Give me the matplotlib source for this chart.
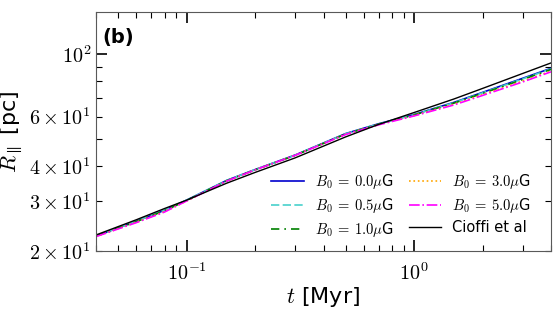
import numpy as np
import matplotlib
matplotlib.use("Agg")
import matplotlib.pyplot as plt
from matplotlib.ticker import FuncFormatter, LogLocator, NullFormatter

plt.rcParams['mathtext.fontset'] = 'cm'
plt.rcParams['font.family'] = ['DejaVu Sans']

# time [Myr]
t = [0.04, 0.06, 0.08, 0.1, 0.15, 0.2, 0.3, 0.5, 0.7, 1.0, 1.5, 2.0, 3.0, 4.0]

# R_par [pc] for each field strength
r_b00 = [22.6, 25.5, 27.9, 30.3, 35.6, 38.9, 43.8, 52.2, 56.6, 61.0, 67.4, 73.1, 82.0, 89.0]
r_b05 = [22.6, 25.5, 27.9, 30.3, 35.6, 38.9, 43.8, 52.1, 56.5, 60.9, 67.2, 72.8, 81.6, 88.6]
r_b10 = [22.6, 25.4, 27.8, 30.2, 35.5, 38.8, 43.7, 52.0, 56.4, 60.8, 67.0, 72.5, 81.2, 88.2]
r_b30 = [22.5, 25.3, 27.6, 30.1, 35.4, 38.8, 43.7, 51.9, 56.2, 60.5, 66.4, 71.8, 80.2, 87.0]
r_b50 = [22.5, 25.2, 27.5, 30.1, 35.4, 38.8, 43.7, 51.8, 56.1, 60.3, 66.0, 71.3, 79.6, 86.5]
# Cioffi et al analytic
r_cioffi = [22.8, 25.8, 28.3, 30.3, 34.8, 38.0, 42.8, 50.8, 56.3, 62.0, 69.3, 75.5, 85.3, 93.0]

labels = [r'$B_0\:=\:0.0\mu$G', r'$B_0\:=\:0.5\mu$G', r'$B_0\:=\:1.0\mu$G',
          r'$B_0\:=\:3.0\mu$G', r'$B_0\:=\:5.0\mu$G', 'Cioffi et al']

fig = plt.figure(figsize=(5.56, 3.12), dpi=100)
ax = fig.add_axes([0.1727, 0.1955, 0.8183, 0.766])

ax.plot(t, r_b00, color='mediumblue', ls='-', lw=1.2, label=labels[0])
ax.plot(t, r_b05, color='mediumturquoise', ls=(0, (5, 2)), lw=1.2, label=labels[1])
ax.plot(t, r_b10, color='green', ls=(0, (5, 3, 1, 3)), lw=1.2, label=labels[2])
ax.plot(t, r_b30, color='orange', ls=':', lw=1.2, label=labels[3])
ax.plot(t, r_b50, color='magenta', ls='-.', lw=1.2, label=labels[4])
ax.plot(t, r_cioffi, color='k', ls='-', lw=1.0, label=labels[5])

ax.set_xscale('log')
ax.set_yscale('log')
ax.set_xlim(0.04, 4.0)
ax.set_ylim(20, 141)

ax.xaxis.set_major_locator(LogLocator(base=10))
ax.yaxis.set_major_locator(LogLocator(base=10))
ax.yaxis.set_minor_locator(LogLocator(base=10, subs=np.arange(2, 10)))


def major_fmt(v, pos):
    e = int(round(np.log10(v)))
    return r'$10^{%d}$' % e


def minor_fmt(v, pos):
    e = int(np.floor(np.log10(v) + 1e-9))
    m = int(round(v / 10 ** e))
    if m in (2, 3, 4, 6):
        return r'$%d\times10^{%d}$' % (m, e)
    return ''


ax.xaxis.set_major_formatter(FuncFormatter(major_fmt))
ax.yaxis.set_major_formatter(FuncFormatter(major_fmt))
ax.yaxis.set_minor_formatter(FuncFormatter(minor_fmt))
ax.xaxis.set_minor_formatter(NullFormatter())

ax.tick_params(which='both', direction='in', top=True, right=True, labelsize=14.5)
ax.tick_params(which='major', length=8, width=1.2)
ax.tick_params(which='minor', length=4, width=0.8)
ax.tick_params(axis='x', which='major', pad=8)
for s in ax.spines.values():
    s.set_color('0.35')

ax.set_xlabel(r'$t$ [Myr]', fontsize=16, labelpad=1)
ax.set_ylabel(r'$R_{\parallel}$ [pc]', fontsize=16, labelpad=3)

ax.text(0.013, 0.895, '(b)', transform=ax.transAxes, fontsize=14,
        fontweight='bold', va='center', ha='left')

ax.legend(ncol=2, frameon=False, fontsize=10.5, loc='lower right',
          bbox_to_anchor=(0.985, -0.005), handlelength=2.2, columnspacing=1.0,
          labelspacing=0.35, handletextpad=0.8)

fig.savefig('out.png', dpi=100)
